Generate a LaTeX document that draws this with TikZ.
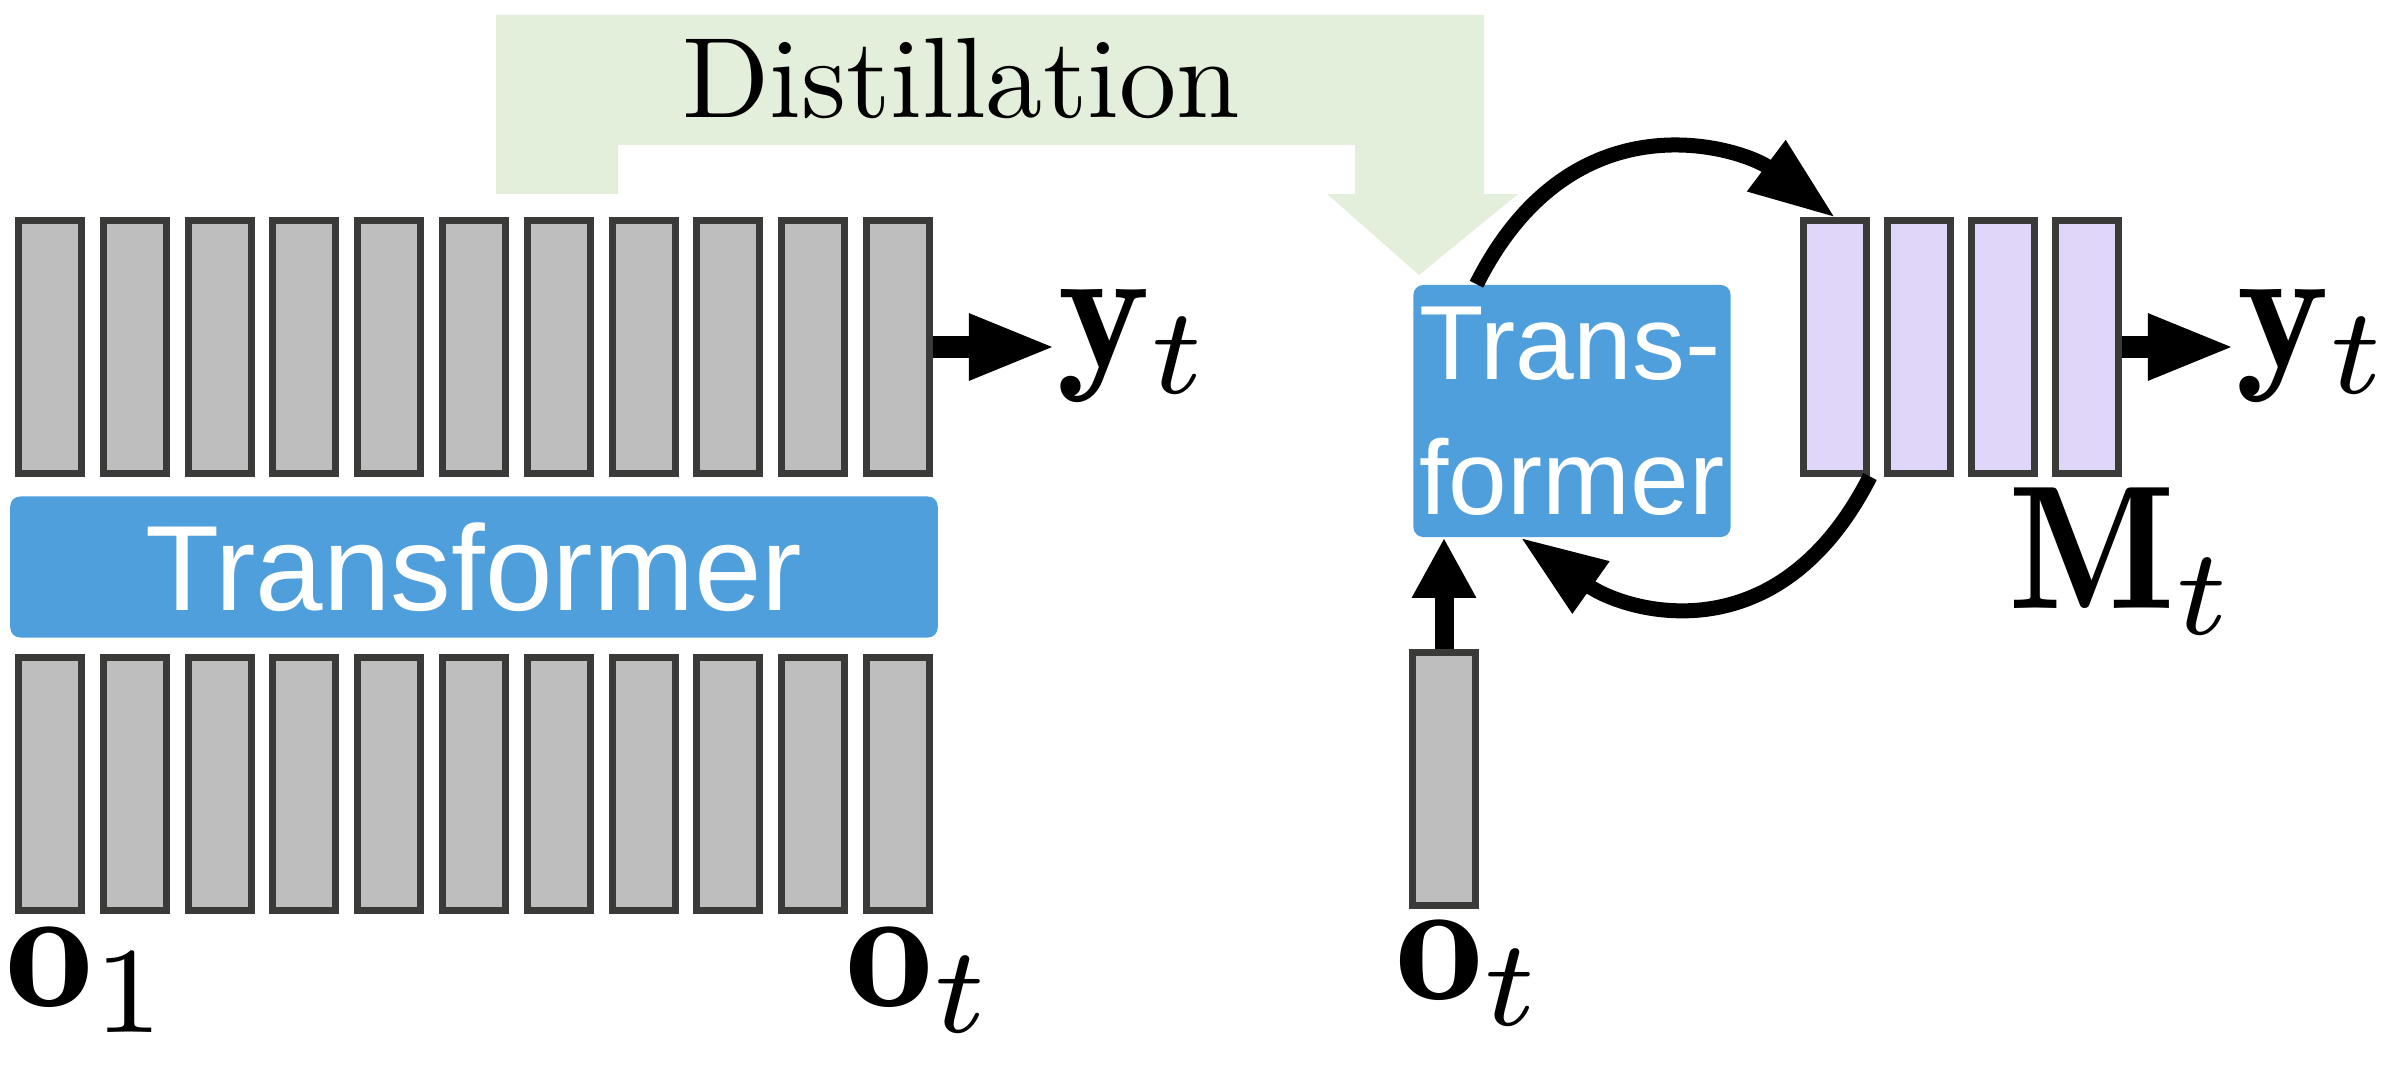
\documentclass[tikz,border=0pt]{standalone}
\usepackage{fontspec}
\usepackage{graphicx}
\usetikzlibrary{arrows.meta}
\newfontfamily\arialsans{Liberation Sans}
\definecolor{boxline}{RGB}{58,58,56}
\definecolor{boxgray}{RGB}{190,190,190}
\definecolor{memlilac}{RGB}{224,214,250}
\definecolor{tfblue}{RGB}{78,159,220}
\definecolor{distgreen}{RGB}{227,239,218}

\begin{document}
\begin{tikzpicture}[x=0.01cm, y=-0.01cm,
  tok/.style={draw=boxline, line width=0.07cm, fill=boxgray, minimum width=0.63cm, minimum height=2.52cm, inner sep=0pt},
  mem/.style={tok, fill=memlilac},
  tf/.style={fill=tfblue, rounded corners=0.1cm, text=white, inner sep=0pt},
  sym/.style={inner sep=0pt, anchor=base west},
  fat/.style={-{Triangle[length=0.88cm, width=0.6cm]}, line width=0.22cm},
  cyc/.style={-{Triangle[length=0.86cm, width=0.6cm]}, line width=0.15cm}]
\useasboundingbox (0, 0) rectangle (2392, 1076);

% distillation arrow
\fill [distgreen] (496, 15) -- (1484, 15) -- (1484, 194) -- (1518, 194) -- (1419, 275) -- (1327, 194)
  -- (1355, 194) -- (1355, 145) -- (618, 145) -- (618, 194) -- (496, 194) -- cycle;
\node [anchor=base, inner sep=0pt] (dist) at (961, 118) {\scalebox{3.25}{Distillation}};

% full context
\node [tok] (t1) at (50, 347) {};
\node [tok] (t2) at (135, 347) {};
\node [tok] (t3) at (220, 347) {};
\node [tok] (t4) at (304, 347) {};
\node [tok] (t5) at (389, 347) {};
\node [tok] (t6) at (474, 347) {};
\node [tok] (t7) at (559, 347) {};
\node [tok] (t8) at (644, 347) {};
\node [tok] (t9) at (728, 347) {};
\node [tok] (t10) at (813, 347) {};
\node [tok] (t11) at (898, 347) {};

\node [tf, minimum width=9.27cm, minimum height=1.41cm, font=\arialsans\fontsize{34.5}{41}\selectfont] (tfL) at (474, 567) {Transformer};

\node [tok] (b1) at (50, 784) {};
\node [tok] (b2) at (135, 784) {};
\node [tok] (b3) at (220, 784) {};
\node [tok] (b4) at (304, 784) {};
\node [tok] (b5) at (389, 784) {};
\node [tok] (b6) at (474, 784) {};
\node [tok] (b7) at (559, 784) {};
\node [tok] (b8) at (644, 784) {};
\node [tok] (b9) at (728, 784) {};
\node [tok] (b10) at (813, 784) {};
\node [tok] (b11) at (898, 784) {};

\node [sym] (o1) at (5, 1006) {\scalebox{5}{$\mathbf{o}_1$}};
\node [sym] (otL) at (845, 1006) {\scalebox{5}{$\mathbf{o}_t$}};
\node [sym] (yL) at (1057, 367) {\scalebox{5}{$\mathbf{y}_t$}};
\draw [fat] (t11.east) -- (t11.east -| yL.west);

% recurrent memory
\node [tf, minimum width=3.17cm, minimum height=2.52cm, align=left, font=\arialsans\fontsize{30}{38.5}\selectfont] (tfR) at (1572, 411) {Trans-\\former};
\node [tok, minimum height=2.53cm] (ot) at (1444, 779) {};
\node [mem] (m1) at (1835, 347) {};
\node [mem] (m2) at (1919, 347) {};
\node [mem] (m3) at (2003, 347) {};
\node [mem] (m4) at (2087, 347) {};

\node [sym] (otR) at (1395, 999) {\scalebox{5}{$\mathbf{o}_t$}};
\node [sym] (yR) at (2236, 367) {\scalebox{5}{$\mathbf{y}_t$}};
\node [sym] (Mt) at (2008, 608) {\scalebox{5}{$\mathbf{M}_t$}};

\draw [fat] (m4.east) -- (m4.east -| yR.west);
\draw [-{Triangle[length=0.6cm, width=0.6cm]}, line width=0.19cm] (ot.north) -- (ot.north |- tfR.south);
\draw [cyc] (tfR.127) .. controls +(98, -195) and +(-89, -67) .. (m1.north);
\draw [cyc] (m1.south east) .. controls +(-93, 183) and +(103, 73) .. (tfR.248);
\end{tikzpicture}
\end{document}
